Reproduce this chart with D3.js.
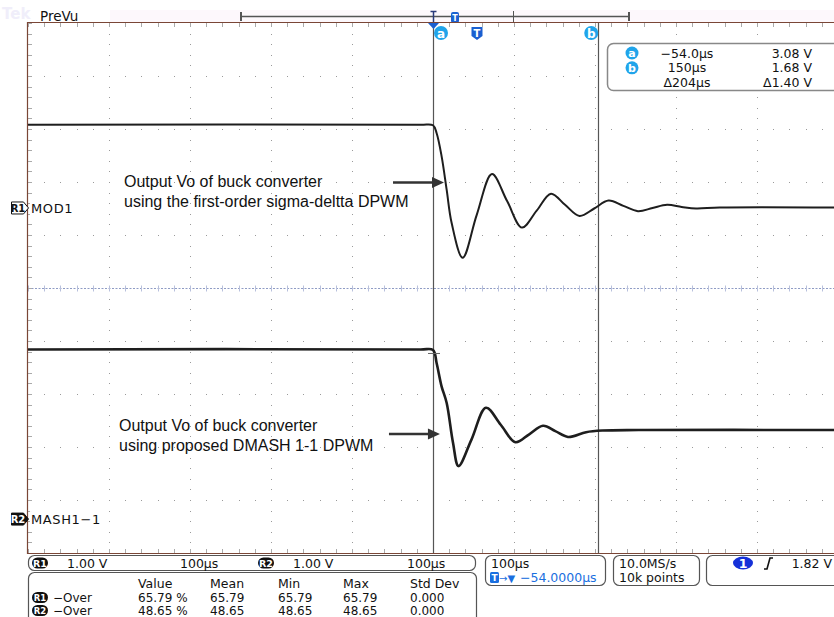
<!DOCTYPE html>
<html lang="en">
<head>
<meta charset="UTF-8" />
<title>Buck converter output - PreVu</title>
<script src="https://d3js.org/d3.v7.min.js"></script>
<style>
  body { margin: 0; background: #fff; }
  svg { display: block; }
  text { font-family: "DejaVu Sans", sans-serif; font-size: 12.5px; fill: #111; }
  .note { font-family: "Liberation Sans", Arial, sans-serif; font-size: 16px; }
</style>
</head>
<body>
<svg></svg>
<script>
// time in µs, volts relative to screen centre (1 V/div, 100 µs/div)
const timeWindow = [-554, 446];
const voltWindow = [-5, 5];

// R1 : first-order sigma-delta DPWM
const r1Time = [-554, -70, -54, -49.5, -43.3, -37.1, -30.9, -17.4, 0, 18.8, 37.5, 55.9, 74, 91.7, 109, 126.9, 145, 162.7, 181, 199, 217, 235, 253, 270.7, 300, 446];
const r1Volt = [3.08, 3.08, 3.07, 2.92, 2.48, 1.85, 1.22, 0.57, 1.38, 2.15, 1.64, 1.14, 1.46, 1.78, 1.57, 1.36, 1.50, 1.65, 1.55, 1.45, 1.51, 1.57, 1.53, 1.50, 1.52, 1.52];

// R2 : proposed DMASH 1-1 DPWM
const r2Time = [-554, -70, -54, -49.5, -43.5, -37.1, -29.3, -22.5, -6.5, 11.4, 29.6, 47.8, 64.8, 81.8, 97, 112.7, 135, 155, 200, 446];
const r2Volt = [-1.16, -1.16, -1.17, -1.42, -1.85, -2.17, -2.92, -3.36, -2.86, -2.26, -2.58, -2.91, -2.76, -2.60, -2.70, -2.81, -2.72, -2.69, -2.68, -2.68];

const cursorTimes = [-54, 150];
const cursorNames = ["a", "b"];
const cursorTimeText = ["\u221254.0\u00b5s", "150\u00b5s", "\u0394204\u00b5s"];
const cursorVoltText = ["3.08 V", "1.68 V", "\u03941.40 V"];

const refNames = ["R1", "R2"];
const refLabels = ["MOD1", "MASH1\u22121"];
const refLevels = [1.51, -4.36];

const measHeaders = ["Value", "Mean", "Min", "Max", "Std Dev"];
const measR1 = ["65.79 %", "65.79", "65.79", "65.79", "0.000"];
const measR2 = ["48.65 %", "48.65", "48.65", "48.65", "0.000"];

const notes = [
  ["Output Vo of buck converter", "using the first-order sigma-deltta DPWM"],
  ["Output Vo of buck converter", "using proposed DMASH 1-1 DPWM"]
];
const noteTimes = [-40.4, -45.4];
const noteVolts = [1.99, -2.755];

const width = 834, height = 617;
const svg = d3.select("svg").attr("width", width).attr("height", height);

const x = d3.scaleLinear().domain(timeWindow).range([28, 838]);
const y = d3.scaleLinear().domain(voltWindow).range([553, 23]);

const plotLeft = x(timeWindow[0]), plotTop = y(5), plotBottom = y(-5);

// top strip
svg.append("text").attr("x", 2).attr("y", 19).style("fill", "#f0eefa")
  .style("font-size", "15px").style("font-weight", "bold").text("Tek");
svg.append("rect").attr("x", 110).attr("y", 10).attr("width", 724).attr("height", 12).attr("fill", "#fdf8fc");
svg.append("text").attr("x", 40).attr("y", 21).style("font-size", "13.5px").text("PreVu");

const bar = svg.append("g").attr("stroke", "#555").attr("fill", "none");
bar.append("line").attr("x1", 241).attr("x2", 629).attr("y1", 16.5).attr("y2", 16.5).attr("stroke-width", 1.5);
[241, 629].forEach(v => bar.append("line").attr("x1", v).attr("x2", v).attr("y1", 12).attr("y2", 21).attr("stroke-width", 2));
bar.append("line").attr("x1", 513.5).attr("x2", 513.5).attr("y1", 11).attr("y2", 22);
bar.append("line").attr("x1", 433.5).attr("x2", 433.5).attr("y1", 11).attr("y2", 22).attr("stroke", "#2a3a7a").attr("stroke-width", 1.5);
bar.append("line").attr("x1", 430.5).attr("x2", 436.5).attr("y1", 11.5).attr("y2", 11.5).attr("stroke", "#2a3a7a").attr("stroke-width", 1.5);
svg.append("rect").attr("x", 451).attr("y", 12).attr("width", 8).attr("height", 11).attr("rx", 2).attr("fill", "#1a5fd0");
svg.append("text").attr("x", 455).attr("y", 21).attr("text-anchor", "middle").style("fill", "#fff")
  .style("font-size", "8px").style("font-weight", "bold").text("T");

// graticule
const g = svg.append("g");
const majorT = d3.range(timeWindow[0], timeWindow[1] + 1, 100);
const majorV = d3.range(-5, 5.01, 1);
const minorT = d3.range(timeWindow[0], timeWindow[1] + 1, 20);
const minorV = d3.range(-5, 5.01, 0.2);

majorT.slice(1).forEach(t => {
  minorV.forEach(v => g.append("rect").attr("x", Math.round(x(t))).attr("y", Math.round(y(v)))
    .attr("width", 1).attr("height", 1).attr("fill", "#9a9a9a"));
});
majorV.slice(1, -1).forEach(v => {
  if (v === 0) return;
  minorT.forEach(t => g.append("rect").attr("x", Math.round(x(t))).attr("y", Math.round(y(v)))
    .attr("width", 1).attr("height", 1).attr("fill", "#9a9a9a"));
});

// centre line with ticks
g.append("line").attr("x1", plotLeft).attr("x2", width).attr("y1", y(0) + 0.5).attr("y2", y(0) + 0.5)
  .attr("stroke", "#8e9bc4").attr("stroke-dasharray", "2,1.5");
minorT.forEach(t => g.append("line").attr("x1", Math.round(x(t)) + 0.5).attr("x2", Math.round(x(t)) + 0.5)
  .attr("y1", y(0) - 2.5).attr("y2", y(0) + 3.5).attr("stroke", "#b8c0dc"));

// edge ticks
minorT.forEach(t => {
  const px = Math.round(x(t)) + 0.5;
  g.append("line").attr("x1", px).attr("x2", px).attr("y1", plotTop).attr("y2", plotTop + 4).attr("stroke", "#aaa");
  g.append("line").attr("x1", px).attr("x2", px).attr("y1", plotBottom - 4).attr("y2", plotBottom).attr("stroke", "#aaa");
});
minorV.forEach(v => {
  const py = Math.round(y(v)) + 0.5;
  g.append("line").attr("x1", plotLeft).attr("x2", plotLeft + 4).attr("y1", py).attr("y2", py).attr("stroke", "#aaa");
});

// border
g.append("path").attr("d", `M${width},${plotTop - 0.5}H${plotLeft - 0.5}V${plotBottom + 0.5}H${width}`)
  .attr("fill", "none").attr("stroke", "#7a4636").attr("stroke-width", 1.2);

// cursors
cursorTimes.forEach(t => {
  svg.append("line").attr("x1", Math.round(x(t)) + 0.5).attr("x2", Math.round(x(t)) + 0.5)
    .attr("y1", plotTop).attr("y2", plotBottom).attr("stroke", "#555").attr("stroke-width", 1.2);
});
svg.append("path").attr("d", `M${x(-54) - 5},${plotTop}h11l-5.5,6z`).attr("fill", "#1a5fd0");
const badgeX = [x(cursorTimes[0]) + 8, x(cursorTimes[1]) - 7];
cursorNames.forEach((n, i) => {
  svg.append("circle").attr("cx", badgeX[i]).attr("cy", 33).attr("r", 7).attr("fill", "#20a4ea");
  svg.append("text").attr("x", badgeX[i]).attr("y", 37.5).attr("text-anchor", "middle")
    .style("fill", "#fff").style("font-weight", "bold").style("font-size", "12px").text(n);
});
svg.append("path").attr("d", "M471.5,27h11v9l-5.5,4l-5.5,-4z").attr("fill", "#1a5fd0");
svg.append("text").attr("x", 477).attr("y", 37).attr("text-anchor", "middle").style("fill", "#fff")
  .style("font-size", "10px").style("font-weight", "bold").text("T");

// waveforms
const line = d3.line().x(d => x(d[0])).y(d => y(d[1])).curve(d3.curveCatmullRom.alpha(0.5));
svg.append("path").datum(d3.zip(r1Time, r1Volt)).attr("d", line)
  .attr("fill", "none").attr("stroke", "#1e1e1e").attr("stroke-width", 2);
svg.append("path").datum(d3.zip(r2Time, r2Volt)).attr("d", line)
  .attr("fill", "none").attr("stroke", "#1e1e1e").attr("stroke-width", 2.6);
svg.append("line").attr("x1", x(-54) - 5).attr("x2", x(-54) + 7).attr("y1", y(r2Volt[0]) + 4).attr("y2", y(r2Volt[0]) + 4)
  .attr("stroke", "#666");

// reference markers
refNames.forEach((n, i) => {
  const cy = y(refLevels[i]);
  const filled = i === 1;
  svg.append("path").attr("d", `M11.5,${cy - 6}h12l5,6l-5,6h-12z`)
    .attr("fill", filled ? "#111" : "#fff").attr("stroke", "#111");
  svg.append("text").attr("x", 18).attr("y", cy + 4).attr("text-anchor", "middle")
    .style("fill", filled ? "#fff" : "#111").style("font-size", "10px").style("font-weight", "bold").text(n);
  svg.append("rect").attr("x", 30).attr("y", cy - 8).attr("width", refLabels[i].length * 9.2 + 2).attr("height", 16).attr("fill", "#fff");
  svg.append("text").attr("x", 31).attr("y", cy + 5).style("font-size", "13px").style("letter-spacing", "0.6px").text(refLabels[i]);
});

// annotations
notes.forEach((lines, i) => {
  const tipX = x(noteTimes[i]), tipY = y(noteVolts[i]);
  lines.forEach((s, j) => svg.append("text").attr("class", "note")
    .attr("x", i === 0 ? 124 : 119).attr("y", tipY + 4 + j * 20 - (i === 0 ? 0 : 7)).text(s));
  svg.append("line").attr("x1", tipX - 51).attr("x2", tipX - 10).attr("y1", tipY).attr("y2", tipY)
    .attr("stroke", "#333").attr("stroke-width", 2.5);
  svg.append("path").attr("d", `M${tipX},${tipY}l-12,-5.5v11z`).attr("fill", "#333");
});

// cursor readout
svg.append("rect").attr("x", 607.5).attr("y", 43.5).attr("width", 240).attr("height", 47).attr("rx", 6)
  .attr("fill", "#fff").attr("stroke", "#888").attr("stroke-width", 1.5);
[0, 1, 2].forEach(i => {
  const by = 57.5 + i * 14.8;
  if (i < 2) {
    svg.append("circle").attr("cx", 632).attr("cy", by - 4.5).attr("r", 6.5).attr("fill", "#20a4ea");
    svg.append("text").attr("x", 632).attr("y", by - 0.5).attr("text-anchor", "middle")
      .style("fill", "#fff").style("font-weight", "bold").style("font-size", "11px").text(cursorNames[i]);
  }
  svg.append("text").attr("x", 687).attr("y", by).attr("text-anchor", "middle").text(cursorTimeText[i]);
  svg.append("text").attr("x", 812).attr("y", by).attr("text-anchor", "end").text(cursorVoltText[i]);
});

// bottom readouts
const box = (x0, y0, w, h) => svg.append("rect").attr("x", x0 + 0.5).attr("y", y0 + 0.5).attr("width", w).attr("height", h)
  .attr("rx", 6).attr("fill", "#fff").attr("stroke", "#555").attr("stroke-width", 1.2);
const badge = (cx, cy, s, size) => {
  svg.append("rect").attr("x", cx - 8).attr("y", cy - 5.5).attr("width", 16).attr("height", 11).attr("rx", 5.5).attr("fill", "#111");
  svg.append("text").attr("x", cx).attr("y", cy + 3.5).attr("text-anchor", "middle")
    .style("fill", "#fff").style("font-size", size || "9.5px").style("font-weight", "bold").text(s);
};

box(28, 555, 447, 15);
badge(40, 563, "R1");
[["1.00 V", 67], ["100\u00b5s", 180], ["1.00 V", 293], ["100\u00b5s", 407]].forEach(([s, px]) =>
  svg.append("text").attr("x", px).attr("y", 567.5).text(s));
badge(266, 563, "R2");

box(28, 572, 448, 60);
const cols = [138, 210, 278, 343, 410];
measHeaders.forEach((s, i) => svg.append("text").attr("x", cols[i]).attr("y", 587.5).text(s));
[measR1, measR2].forEach((row, r) => {
  const by = 601.5 + r * 13;
  badge(40, by - 4, refNames[r], "8.5px");
  svg.append("text").attr("x", 53).attr("y", by).style("font-size", "12px").text("\u2212Over");
  row.forEach((s, i) => svg.append("text").attr("x", cols[i]).attr("y", by).style("font-size", "12px").text(s));
});

box(485, 555, 120, 30);
svg.append("text").attr("x", 491).attr("y", 567.5).text("100\u00b5s");
svg.append("rect").attr("x", 490).attr("y", 572).attr("width", 9).attr("height", 11).attr("rx", 1.5).attr("fill", "#1a6fe0");
svg.append("text").attr("x", 494.5).attr("y", 581).attr("text-anchor", "middle").style("fill", "#fff")
  .style("font-size", "9px").style("font-weight", "bold").text("T");
svg.append("text").attr("x", 499).attr("y", 581.5).style("fill", "#1a6fe0").style("font-size", "10px").text("\u2192\u25bc");
svg.append("text").attr("x", 520).attr("y", 581.5).style("fill", "#1a6fe0").text("\u221254.0000\u00b5s");

box(613, 555, 86, 30);
svg.append("text").attr("x", 619).attr("y", 567.5).text("10.0MS/s");
svg.append("text").attr("x", 619).attr("y", 581.5).text("10k points");

box(706, 555, 140, 30);
svg.append("ellipse").attr("cx", 743).attr("cy", 563).attr("rx", 10).attr("ry", 6.5).attr("fill", "#1530d8");
svg.append("text").attr("x", 743).attr("y", 567.5).attr("text-anchor", "middle").style("fill", "#fff").style("font-weight", "bold").text("1");
svg.append("path").attr("d", "M764,569h3l3,-11h3").attr("fill", "none").attr("stroke", "#111").attr("stroke-width", 1.6);
svg.append("text").attr("x", 832).attr("y", 567.5).attr("text-anchor", "end").text("1.82 V");
</script>
</body>
</html>
